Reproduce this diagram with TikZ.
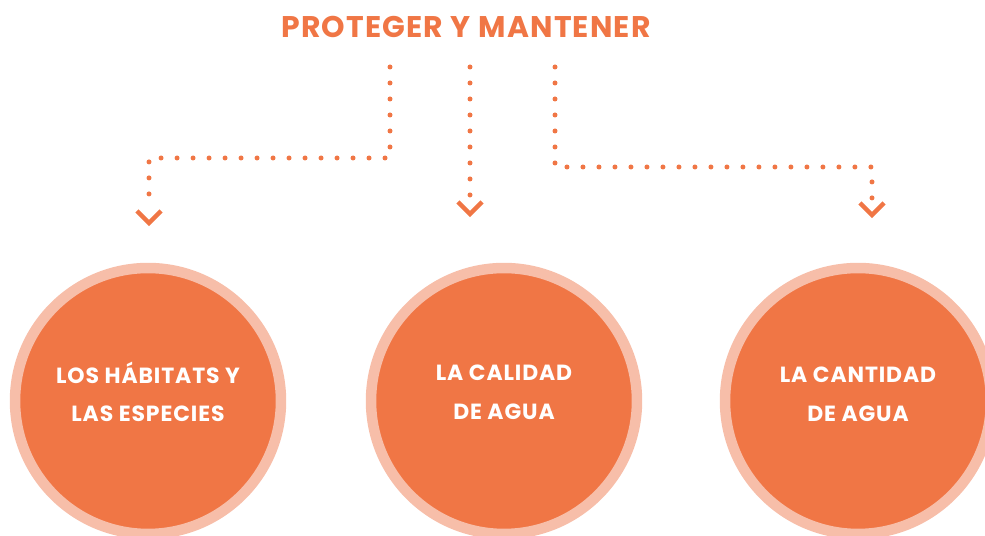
\documentclass[tikz,border=0pt]{standalone}
\usepackage{fontspec}
\setmainfont{Poppins}
\usetikzlibrary{positioning}
\definecolor{naranja}{RGB}{240,118,69}
\definecolor{rosa}{RGB}{247,190,169}

\begin{document}
\begin{tikzpicture}[x=0.02cm,y=-0.02cm,
    circulo/.style={circle,fill=naranja,draw=rosa,line width=0.21cm,
      minimum size=5.32cm,inner sep=0pt},
    texto/.style={text=white,align=center,
      font=\bfseries\addfontfeatures{LetterSpace=4}\fontsize{12.5}{22}\selectfont},
    puntos/.style={naranja,line width=0.1cm,line cap=round,
      dash pattern=on 0pt off 0.32cm},
    flecha/.style={naranja,line width=0.09cm}]
    \useasboundingbox (0,0) rectangle (985,536);
    \clip (0,0) rectangle (985,536);
    \node[text=naranja,font=\bfseries\addfontfeatures{LetterSpace=4}\fontsize{17}{20}\selectfont]
      (titulo) at (466,27) {PROTEGER Y MANTENER};
    \node[circulo] (c1) at (148,401) {};
    \node[circulo] (c2) at (504,401) {};
    \node[circulo] (c3) at (858,401) {};
    \node[texto] (t1) at ([yshift=0.18cm]c1) {LOS HÁBITATS Y\\LAS ESPECIES};
    \node[texto] (t2) at ([yshift=0.18cm]c2) {LA CALIDAD\\DE AGUA};
    \node[texto] (t3) at ([yshift=0.14cm]c3) {LA CANTIDAD\\DE AGUA};
    \coordinate (s1) at (390,67);
    \coordinate (s2) at (470,67);
    \coordinate (s3) at (555,67);
    \coordinate (e1) at (149,207);
    \coordinate (e2) at (470,198);
    \coordinate (e3) at (872,199);
    \draw[puntos] (s1) -- (s1 |- 0,158) -| (e1);
    \draw[puntos] (s2) -- (e2);
    \draw[puntos] (s3) -- (s3 |- 0,167) -| (e3);
    \foreach \e in {e1,e2,e3}
      \draw[flecha] ([shift={(-12,4)}]\e) -- ([shift={(0,16)}]\e) -- ([shift={(12,4)}]\e);
\end{tikzpicture}
\end{document}
